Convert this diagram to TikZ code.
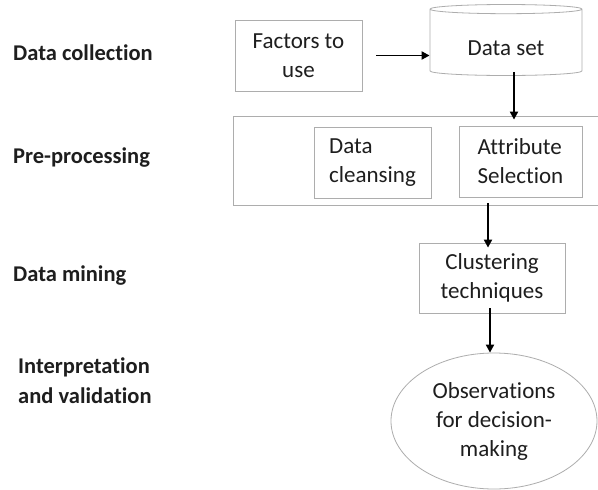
\documentclass[tikz,border=0pt]{standalone}
\usepackage{fontspec}
\setmainfont{Carlito}[RawFeature={-liga}]
\usetikzlibrary{arrows.meta,positioning,shapes.geometric}
\definecolor{boxgray}{HTML}{ADADAD}
\definecolor{txtgray}{HTML}{1E1E1E}

\begin{document}
\begin{tikzpicture}[x=1pt, y=-1pt,
    every node/.style={text=txtgray},
    stage/.style={font=\fontsize{22.5}{30}\selectfont\bfseries, align=left,
      anchor=west, inner sep=0pt},
    box/.style={draw=boxgray, line width=0.8pt, inner sep=0pt,
      font=\fontsize{23}{29}\selectfont},
    flow/.style={-{Triangle[length=8pt,width=8pt]}, line width=1.9pt, black}]

  % ---- Frame ----
  \clip (0,0) rectangle (598,490);
  \fill[white] (0,0) rectangle (598,490);

  % ---- Stage labels ----
  \node[stage] (lcollect) at (13,53)  {Data collection};
  \node[stage] (lprep)    at (13,158) {Pre-processing};
  \node[stage] (lmine)    at (13,276) {Data mining};
  \node[stage] (linterp)  at (18,381) {Interpretation\\and validation};

  % ---- Data collection ----
  \node[box, minimum width=127, minimum height=71, align=center]
    (factors) at (298.5,55.5) {Factors to\\use};
  \node[box, cylinder, shape border rotate=90, aspect=0.12,
    minimum width=152, minimum height=71, text height=25pt, text depth=0pt]
    (dataset) at (506,42.5) {Data set};

  % ---- Pre-processing ----
  \node[box, minimum width=369, minimum height=89] (prep) at (417.5,160.5) {};
  \node[box, minimum width=117, minimum height=71, align=left]
    (cleansing) at (372.5,162.5) {Data\\cleansing};
  \node[box, minimum width=123, minimum height=71, align=left]
    (attrib) at (520.5,161.5) {Attribute\\Selection};

  % ---- Data mining ----
  \node[box, minimum width=146, minimum height=70, align=center]
    (cluster) at (492,278) {Clustering\\techniques};

  % ---- Interpretation ----
  \node[box, ellipse, minimum width=206, minimum height=136, align=center]
    (observe) at (494,421) {Observations\\for decision-\\making};

  % ---- Arrows ----
  \draw[flow] ([xshift=14pt]factors.east) -- (factors.east -| dataset.west);
  \draw[flow] ([xshift=8pt,yshift=4pt]dataset.south)
    -- ([xshift=8pt,yshift=-4pt]dataset.south |- prep.north);
  \draw[flow] ([xshift=-4pt,yshift=2pt]prep.south -| cluster.north)
    -- ([xshift=-4pt,yshift=-5pt]cluster.north);
  \draw[flow] ([xshift=-2pt,yshift=5pt]cluster.south)
    -- ([xshift=-2pt]cluster.south |- observe.north);

\end{tikzpicture}
\end{document}
